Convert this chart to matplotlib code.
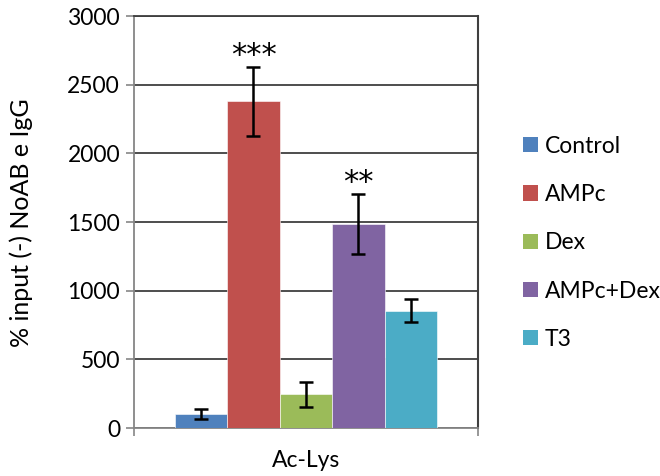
import matplotlib
matplotlib.use('Agg')
import matplotlib.pyplot as plt
from matplotlib.patches import Patch

plt.rcParams['font.family'] = ['Lato', 'DejaVu Sans']

groups = ['Control', 'AMPc', 'Dex', 'AMPc+Dex', 'T3']
values = [100, 2380, 245, 1485, 855]
errors = [35, 250, 90, 218, 82]
stars = ['', '***', '', '**', '']
colors = ['#4F81BD', '#C0504D', '#9BBB59', '#8064A2', '#4BACC6']
category = 'Ac-Lys'
yticks = [0, 500, 1000, 1500, 2000, 2500, 3000]

fig = plt.figure(figsize=(6.6, 4.76), dpi=100)
ax = fig.add_axes([0.203, 0.1008, 0.521, 0.8655])

x = list(range(len(groups)))
ax.bar(x, values, width=1.0, color=colors, edgecolor='white', linewidth=0.4, zorder=3)
ax.errorbar(x, values, yerr=errors, fmt='none', ecolor='black',
            elinewidth=1.8, capsize=5, capthick=1.8, zorder=4)

# significance marks above the error bars
for xi, v, e, s in zip(x, values, errors, stars):
    if s:
        ax.text(xi, v + e - 20, s, ha='center', va='bottom', fontsize=22,
                family='DejaVu Sans', zorder=5)

ax.set_xlim(-1.28, 5.28)
ax.set_ylim(0, 3000)
ax.set_yticks(yticks)
ax.tick_params(axis='y', labelsize=16.5, length=6, color='#868686', width=1.2, pad=4)
ax.yaxis.grid(True, color='#3f3f3f', linewidth=1.3, zorder=0)
ax.set_axisbelow(True)

ax.set_xticks([2])
ax.set_xticklabels([category], fontsize=16.5)
ax.tick_params(axis='x', length=0, pad=16)
ax.set_xticks([-1.28, 5.28], minor=True)
ax.tick_params(axis='x', which='minor', length=6, color='#868686', width=1.2)

for side in ['left', 'bottom']:
    ax.spines[side].set_color('#868686')
    ax.spines[side].set_linewidth(1.3)
ax.spines['top'].set_color('#3f3f3f')
ax.spines['right'].set_color('#3f3f3f')
ax.spines['top'].set_linewidth(1.3)
ax.spines['right'].set_linewidth(1.5)

ax.set_ylabel('% input (-) NoAB e IgG', fontsize=18)
ax.yaxis.set_label_coords(-0.294, 0.4976)

handles = [Patch(facecolor=c, edgecolor='none') for c in colors]
fig.legend(handles, groups, loc='center left', bbox_to_anchor=(0.761, 0.49),
           frameon=False, fontsize=16.5, handlelength=0.65, handleheight=0.65,
           handletextpad=0.3, labelspacing=1.19)

fig.savefig('out.png', dpi=100)
